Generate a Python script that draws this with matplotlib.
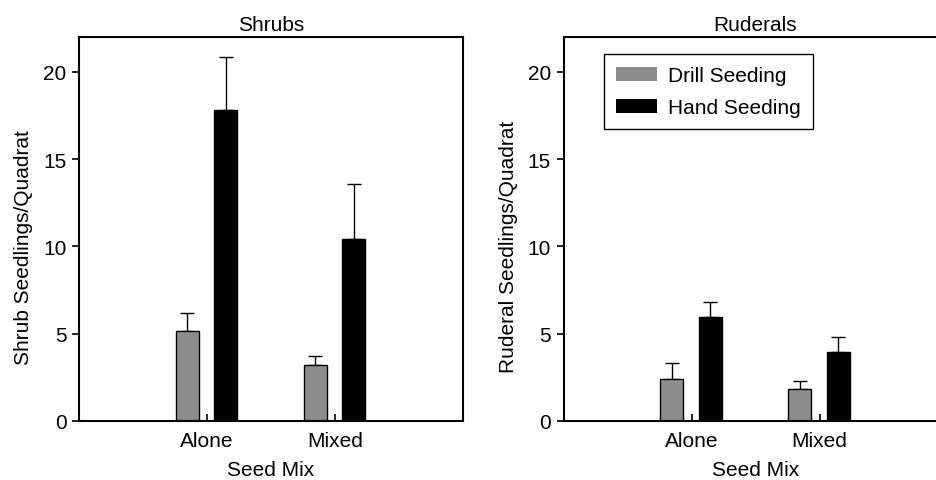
import numpy as np
import matplotlib.pyplot as plt
from matplotlib.patches import Patch

plt.rcParams['font.family'] = ['Liberation Sans', 'DejaVu Sans']

mixes = ['Alone', 'Mixed']
methods = ['Drill Seeding', 'Hand Seeding']
colors = ['#8c8c8c', 'black']

# means and upper standard errors
shrub_mean = {'Drill Seeding': [5.15, 3.23], 'Hand Seeding': [17.8, 10.4]}
shrub_err = {'Drill Seeding': [1.05, 0.5], 'Hand Seeding': [3.05, 3.2]}
ruderal_mean = {'Drill Seeding': [2.4, 1.85], 'Hand Seeding': [5.98, 3.98]}
ruderal_err = {'Drill Seeding': [0.92, 0.44], 'Hand Seeding': [0.86, 0.86]}

fs = 15
fig = plt.figure(figsize=(9.36, 4.81), dpi=100)
ax1 = fig.add_axes([79/936, 59/481, 384/936, 384/481])
ax2 = fig.add_axes([563.5/936, 59/481, 384/936, 384/481])

x = np.arange(len(mixes))
offs = [-0.153, 0.148]
w = 0.18

def draw(ax, mean, err, title, ylab):
    for i, m in enumerate(methods):
        ax.bar(x + offs[i], mean[m], width=w, color=colors[i],
               edgecolor='black', linewidth=1.0, zorder=2)
        ax.errorbar(x + offs[i], mean[m], yerr=[np.zeros(len(x)), err[m]],
                    fmt='none', ecolor='black', elinewidth=1.0,
                    capsize=4.8, capthick=1.0, zorder=1)
    ax.set_xlim(-1, 2)
    ax.set_ylim(0, 22)
    ax.set_yticks([0, 5, 10, 15, 20])
    ax.set_xticks(x)
    ax.set_xticklabels(mixes)
    ax.tick_params(axis='x', direction='in', length=5, width=1.2,
                   labelsize=fs, pad=7)
    ax.tick_params(axis='y', direction='out', length=5, width=1.2,
                   labelsize=fs, pad=4)
    for s in ax.spines.values():
        s.set_linewidth(1.5)
    ax.set_title(title, fontsize=fs, pad=5)
    ax.set_xlabel('Seed Mix', fontsize=fs, labelpad=7.5)
    ax.set_ylabel(ylab, fontsize=fs, labelpad=7)
    ax.yaxis.label.set_y(0.455)

draw(ax1, shrub_mean, shrub_err, 'Shrubs', 'Shrub Seedlings/Quadrat')
draw(ax2, ruderal_mean, ruderal_err, 'Ruderals', 'Ruderal Seedlings/Quadrat')

handles = [Patch(facecolor=colors[i], edgecolor='none', label=m)
           for i, m in enumerate(methods)]
leg = ax2.legend(handles=handles, loc='upper left',
                 bbox_to_anchor=(0.105, 0.956), borderaxespad=0,
                 fontsize=fs, fancybox=False, edgecolor='black',
                 framealpha=1, handlelength=1.93, handleheight=0.67,
                 borderpad=0.6, labelspacing=0.6, handletextpad=0.55)
leg.get_frame().set_linewidth(1.0)

fig.savefig('out.png', dpi=100)
